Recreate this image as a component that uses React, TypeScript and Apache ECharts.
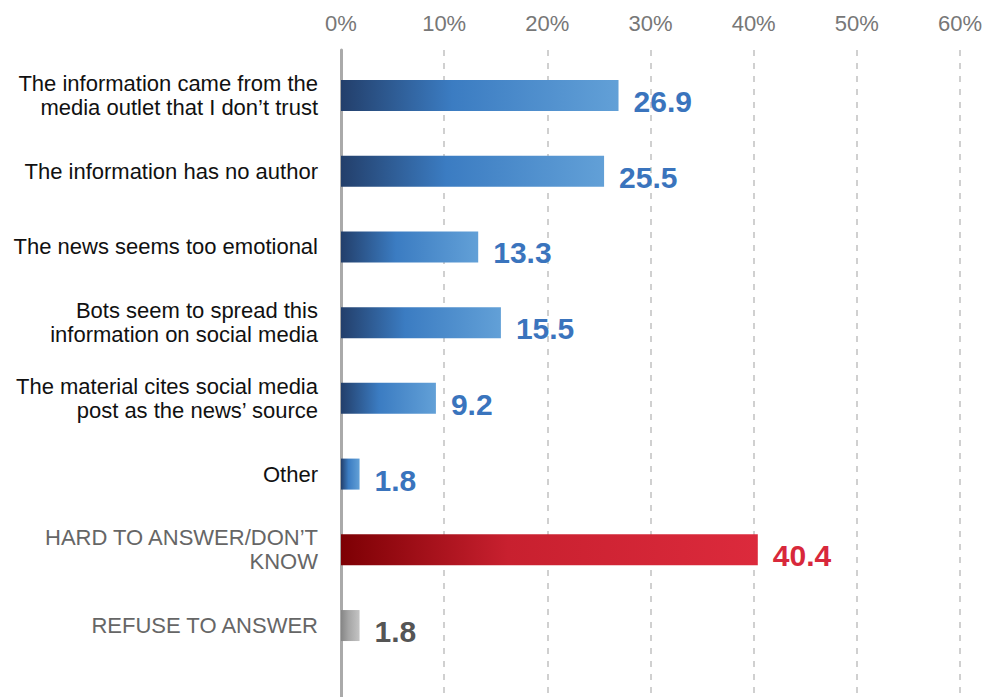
import React, { useEffect, useRef } from "react";
import * as echarts from "echarts";

const categories = [
  "The information came from the\nmedia outlet that I don’t trust",
  "The information has no author",
  "The news seems too emotional",
  "Bots seem to spread this\ninformation on social media",
  "The material cites social media\npost as the news’ source",
  "Other",
  "HARD TO ANSWER/DON’T\nKNOW",
  "REFUSE TO ANSWER",
];
const values = [26.9, 25.5, 13.3, 15.5, 9.2, 1.8, 40.4, 1.8];
const groups = ["main", "main", "main", "main", "main", "main", "hard", "refuse"];
const tickValues = [0, 10, 20, 30, 40, 50, 60];

const gradients: Record<string, string[]> = {
  main: ["#233f6b", "#3b7cc2", "#62a0d7"],
  hard: ["#7d0004", "#c8202f", "#dc2a3c"],
  refuse: ["#858585", "#a5a5a5", "#c4c4c4"],
};
const labelColors: Record<string, string> = {
  main: "#3a74bd",
  hard: "#d8283b",
  refuse: "#555555",
};
const catColors: Record<string, string> = {
  main: "#111111",
  hard: "#666666",
  refuse: "#666666",
};

export default function App() {
  const ref = useRef<HTMLDivElement>(null);
  useEffect(() => {
    if (!ref.current) return;
    const chart = echarts.init(ref.current, undefined, { renderer: "svg" });
    const font = "'Liberation Sans', Arial, Helvetica, sans-serif";
    chart.setOption({
      animation: false,
      backgroundColor: "#ffffff",
      grid: [
        { left: 341, right: 30, top: 57.6, bottom: 33.6, containLabel: false },
        { left: 341, right: 30, top: 50, bottom: 0, containLabel: false },
      ],
      xAxis: [
        { type: "value", gridIndex: 0, min: 0, max: 60, interval: 10, show: false },
        {
          type: "value",
          gridIndex: 1,
          min: tickValues[0],
          max: tickValues[tickValues.length - 1],
          interval: 10,
          position: "top",
          axisLine: { show: false },
          axisTick: { show: false },
          axisLabel: {
            show: true,
            formatter: (v: number) => v + "%",
            color: "#777777",
            fontSize: 22,
            fontFamily: font,
            margin: 16,
          },
          splitLine: {
            show: true,
            lineStyle: { color: "#d0d0d0", width: 2, type: [6, 7] },
          },
        },
      ],
      yAxis: [
        {
          type: "category",
          gridIndex: 0,
          data: categories,
          inverse: true,
          axisLine: { show: false },
          axisTick: { show: false },
          axisLabel: {
            margin: 23,
            fontSize: 22,
            lineHeight: 24,
            fontFamily: font,
            align: "right",
            color: (_v: string, i: number) => catColors[groups[i]],
          },
        },
        {
          type: "value",
          gridIndex: 1,
          min: 0,
          max: 1,
          axisLine: { show: true, onZero: false, lineStyle: { color: "#aaaaaa", width: 3 } },
          axisTick: { show: false },
          axisLabel: { show: false },
          splitLine: { show: false },
        },
      ],
      series: [
        {
          type: "bar",
          xAxisIndex: 0,
          yAxisIndex: 0,
          barWidth: 31,
          data: values.map((v, i) => {
            const g = gradients[groups[i]];
            return {
              value: v,
              itemStyle: {
                color: new echarts.graphic.LinearGradient(0, 0, 1, 0, [
                  { offset: 0, color: g[0] },
                  { offset: 0.4, color: g[1] },
                  { offset: 1, color: g[2] },
                ]),
              },
              label: {
                show: true,
                position: "right",
                distance: 15,
                fontSize: 30,
                fontWeight: "bold",
                fontFamily: font,
                color: labelColors[groups[i]],
                offset: [0, 6],
                formatter: (p: any) => p.value.toFixed(1),
              },
            };
          }),
        },
      ],
    });
    return () => chart.dispose();
  }, []);
  return (
    <div
      ref={ref}
      style={{ position: "absolute", left: 0, top: 0, width: 990, height: 697 }}
    />
  );
}
